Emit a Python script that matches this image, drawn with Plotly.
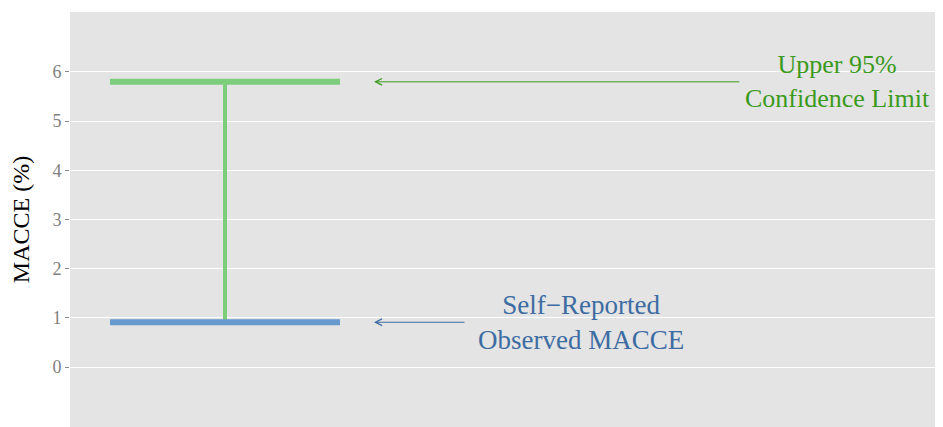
import plotly.graph_objects as go

# ---- data ----
categories = ["MACCE"]
observed = [0.91]        # self-reported observed MACCE (%)
upper95 = [5.8]          # upper 95% confidence limit (%)
y_ticks = [0, 1, 2, 3, 4, 5, 6]
y_ticklabels = ["0", "1", "2", "3", "4", "5", "6"]
label_upper = "Upper 95%<br>Confidence Limit"
label_obs = "Self\u2212Reported<br>Observed MACCE"

GREEN_LINE = "#7ccd7c"
BLUE_LINE = "#6699cc"
GREEN_TXT = "#3b9a1c"
BLUE_TXT = "#3d6ca3"
FONT = "Liberation Serif"

center = 1.0
half = 0.5

fig = go.Figure()
# vertical segment
fig.add_trace(go.Scatter(x=[center, center], y=[observed[0], upper95[0]], mode="lines",
                         line=dict(color=GREEN_LINE, width=4), showlegend=False, hoverinfo="skip"))
# upper limit
fig.add_trace(go.Scatter(x=[center - half, center + half], y=[upper95[0], upper95[0]], mode="lines",
                         line=dict(color=GREEN_LINE, width=6), showlegend=False, hoverinfo="skip"))
# observed
fig.add_trace(go.Scatter(x=[center - half, center + half], y=[observed[0], observed[0]], mode="lines",
                         line=dict(color=BLUE_LINE, width=6), showlegend=False, hoverinfo="skip"))

# arrows
fig.add_annotation(x=1.648, y=upper95[0], ax=3.243, ay=upper95[0], axref="x", ayref="y",
                   xref="x", yref="y", text="", showarrow=True, arrowhead=5, arrowsize=1.3,
                   arrowwidth=1, arrowcolor=GREEN_TXT, standoff=0, startstandoff=0)
fig.add_annotation(x=1.648, y=observed[0], ax=2.048, ay=observed[0], axref="x", ayref="y",
                   xref="x", yref="y", text="", showarrow=True, arrowhead=5, arrowsize=1.3,
                   arrowwidth=1, arrowcolor=BLUE_TXT, standoff=0, startstandoff=0)
# labels
fig.add_annotation(x=3.665, y=upper95[0], xref="x", yref="y", text=label_upper, showarrow=False,
                   font=dict(family=FONT, size=26, color=GREEN_TXT), align="center")
fig.add_annotation(x=2.548, y=observed[0], xref="x", yref="y", text=label_obs, showarrow=False,
                   font=dict(family=FONT, size=27, color=BLUE_TXT), align="center")

fig.update_layout(
    width=927, height=419,
    margin=dict(l=62, r=0, t=4, b=0),
    paper_bgcolor="white",
    plot_bgcolor="#e4e4e4",
    font=dict(family=FONT),
    xaxis=dict(range=[0.3261, 4.087], showgrid=False, zeroline=False, showticklabels=False,
               ticks="", showline=False, fixedrange=True),
    yaxis=dict(range=[-1.22, 7.22], tickvals=y_ticks, ticktext=y_ticklabels,
               showgrid=True, gridcolor="white", gridwidth=1.3, zeroline=False,
               ticks="outside", ticklen=4, tickcolor="#8a8a8a", tickwidth=1,
               tickfont=dict(family=FONT, size=18, color="#7f7f7f"),
               title=dict(text="MACCE (%)", font=dict(family=FONT, size=24, color="black"), standoff=16),
               automargin=False, showline=False),
)

fig.write_html("out.html")
